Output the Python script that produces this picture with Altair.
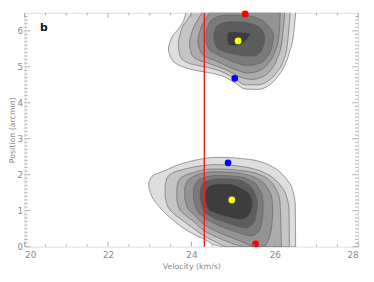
import altair as alt
import pandas as pd

# ---------------- data ----------------
# Axis ticks
X_MAJOR = [20, 22, 24, 26, 28]
X_MINOR = [20.5, 21, 21.5, 22.5, 23, 23.5, 24.5, 25, 25.5, 26.5, 27, 27.5]
Y_MAJOR = [0, 1, 2, 3, 4, 5, 6]
Y_MINOR = [round(i * 0.1, 1) for i in range(1, 65) if i % 10 != 0]

# Reference velocity (red vertical line)
RED_LINE_X = [24.31]

# Marked points
PT_X = [25.29, 25.12, 25.04, 24.88, 24.97, 25.54]
PT_Y = [6.47, 5.72, 4.68, 2.33, 1.30, 0.08]
PT_C = ["#ff0000", "#ffff00", "#0000ff", "#0000ff", "#ffff00", "#ff0000"]

# Contour fills (outer -> inner)
LEVEL_FILLS = ["#dedede", "#c5c5c5", "#acacac", "#939393", "#7a7a7a", "#5d5d5d", "#3d3d3d"]

# Lower blob contours: x, lower edge, upper edge
LOW1_X = [22.98, 23.05, 23.2, 23.4, 23.6, 23.8, 24.0, 24.3, 24.55, 24.8, 25.2, 25.6, 25.9, 26.1, 26.3, 26.42, 26.49, 26.5]
LOW1_LO = [1.62, 1.40, 1.15, 0.90, 0.70, 0.52, 0.38, 0.21, 0.05, 0, 0, 0, 0, 0, 0, 0, 0, 0]
LOW1_HI = [1.80, 1.95, 2.04, 2.13, 2.24, 2.32, 2.38, 2.45, 2.48, 2.48, 2.45, 2.38, 2.25, 2.10, 1.85, 1.60, 1.20, 0.0]

LOW2_X = [23.37, 23.42, 23.55, 23.75, 24.0, 24.3, 24.6, 24.85, 25.05, 25.4, 25.7, 25.95, 26.15, 26.28, 26.34, 26.35]
LOW2_LO = [1.40, 1.15, 0.95, 0.76, 0.55, 0.30, 0.12, 0.0, 0, 0, 0, 0, 0, 0, 0, 0]
LOW2_HI = [1.72, 1.92, 2.05, 2.13, 2.20, 2.26, 2.28, 2.27, 2.25, 2.19, 2.08, 1.92, 1.68, 1.40, 1.05, 0.0]

LOW3_X = [23.65, 23.7, 23.85, 24.05, 24.3, 24.6, 24.9, 25.15, 25.3, 25.6, 25.85, 26.0, 26.12, 26.16]
LOW3_LO = [1.30, 1.08, 0.88, 0.70, 0.45, 0.27, 0.12, 0.03, 0, 0, 0, 0, 0, 0]
LOW3_HI = [1.65, 1.85, 1.98, 2.06, 2.14, 2.16, 2.15, 2.12, 2.10, 2.02, 1.86, 1.66, 1.30, 0.0]

LOW4_X = [23.84, 23.9, 24.05, 24.3, 24.6, 24.9, 25.2, 25.45, 25.6, 25.75, 25.85, 25.93, 25.95]
LOW4_LO = [1.35, 1.10, 0.90, 0.62, 0.42, 0.28, 0.14, 0.02, 0, 0.02, 0.2, 0.6, 1.0]
LOW4_HI = [1.62, 1.82, 1.95, 2.05, 2.08, 2.07, 2.03, 1.96, 1.88, 1.75, 1.58, 1.35, 1.1]

LOW5_X = [24.05, 24.12, 24.3, 24.6, 24.9, 25.2, 25.45, 25.6, 25.7, 25.72]
LOW5_LO = [1.35, 1.05, 0.82, 0.62, 0.48, 0.36, 0.30, 0.40, 0.75, 1.05]
LOW5_HI = [1.60, 1.80, 1.92, 1.98, 1.97, 1.93, 1.82, 1.66, 1.40, 1.20]

LOW6_X = [24.21, 24.28, 24.45, 24.7, 25.0, 25.3, 25.5, 25.58]
LOW6_LO = [1.35, 1.05, 0.85, 0.72, 0.60, 0.52, 0.68, 1.05]
LOW6_HI = [1.58, 1.76, 1.85, 1.89, 1.88, 1.78, 1.55, 1.30]

LOW7_X = [24.33, 24.4, 24.6, 24.9, 25.2, 25.4, 25.46]
LOW7_LO = [1.30, 1.05, 0.92, 0.82, 0.76, 0.90, 1.10]
LOW7_HI = [1.50, 1.66, 1.74, 1.74, 1.62, 1.45, 1.30]

# Upper blob contours (clipped by the top of the frame)
UP1_X = [23.45, 23.52, 23.65, 23.8, 23.92, 24.2, 24.5, 24.8, 25.05, 25.3, 25.6, 25.85, 26.05, 26.2, 26.35, 26.45, 26.5]
UP1_LO = [5.45, 5.22, 5.08, 5.0, 4.95, 4.88, 4.82, 4.72, 4.55, 4.38, 4.37, 4.48, 4.70, 4.95, 5.40, 5.90, 6.5]
UP1_HI = [5.55, 5.80, 6.00, 6.25, 6.6, 6.6, 6.6, 6.6, 6.6, 6.6, 6.6, 6.6, 6.6, 6.6, 6.6, 6.6, 6.6]

UP2_X = [23.69, 23.75, 23.9, 24.1, 24.4, 24.7, 25.0, 25.3, 25.6, 25.85, 26.05, 26.2, 26.3, 26.37]
UP2_LO = [5.50, 5.25, 5.12, 5.05, 4.98, 4.88, 4.70, 4.50, 4.50, 4.62, 4.85, 5.15, 5.60, 6.5]
UP2_HI = [5.70, 6.00, 6.30, 6.6, 6.6, 6.6, 6.6, 6.6, 6.6, 6.6, 6.6, 6.6, 6.6, 6.6]

UP3_X = [23.96, 24.02, 24.15, 24.35, 24.6, 24.9, 25.2, 25.45, 25.7, 25.9, 26.05, 26.17, 26.24]
UP3_LO = [5.55, 5.32, 5.20, 5.12, 5.02, 4.88, 4.70, 4.65, 4.72, 4.90, 5.20, 5.70, 6.5]
UP3_HI = [5.75, 6.00, 6.30, 6.6, 6.6, 6.6, 6.6, 6.6, 6.6, 6.6, 6.6, 6.6, 6.6]

UP4_X = [24.16, 24.22, 24.35, 24.55, 24.8, 25.1, 25.35, 25.6, 25.85, 26.0, 26.1, 26.13]
UP4_LO = [5.62, 5.42, 5.28, 5.18, 5.05, 4.90, 4.83, 4.88, 5.10, 5.40, 5.85, 6.5]
UP4_HI = [5.80, 6.05, 6.35, 6.6, 6.6, 6.6, 6.6, 6.6, 6.6, 6.6, 6.6, 6.6]

UP5_X = [24.35, 24.42, 24.6, 24.85, 25.1, 25.35, 25.6, 25.8, 25.93, 25.97]
UP5_LO = [5.70, 5.50, 5.35, 5.22, 5.10, 5.04, 5.08, 5.25, 5.55, 5.85]
UP5_HI = [5.95, 6.20, 6.38, 6.44, 6.44, 6.42, 6.35, 6.20, 6.00, 5.90]

UP6_X = [24.54, 24.6, 24.8, 25.05, 25.3, 25.5, 25.68, 25.76]
UP6_LO = [5.75, 5.55, 5.42, 5.35, 5.30, 5.30, 5.45, 5.72]
UP6_HI = [5.95, 6.12, 6.24, 6.26, 6.24, 6.18, 6.05, 5.85]

UP7_X = [24.86, 24.9, 25.05, 25.2, 25.32, 25.41]
UP7_LO = [5.75, 5.60, 5.58, 5.62, 5.75, 5.90]
UP7_HI = [5.90, 5.97, 5.97, 5.96, 5.95, 5.93]

PANEL_LABEL = "b"
PANEL_LABEL_POS = (20.46, 6.08)

# ---------------- chart ----------------
W, H = 341, 239
XDOM, YDOM = [20, 28], [0, 6.5]
GRAY = "#8a8a8a"
FONT = "DejaVu Sans"

xs = alt.Scale(domain=XDOM, nice=False, zero=False)
ys = alt.Scale(domain=YDOM, nice=False, zero=False)
xaxis = alt.Axis(title="Velocity (km/s)", values=X_MAJOR, ticks=False, grid=False, domain=False,
                 labelColor=GRAY, labelFont=FONT, labelFontSize=9, labelPadding=4,
                 titleColor=GRAY, titleFont=FONT, titleFontSize=8, titleFontWeight="normal",
                 titlePadding=3, format="d")
yaxis = alt.Axis(title="Position (arcmin)", values=Y_MAJOR, ticks=False, grid=False, domain=False,
                 labelColor=GRAY, labelFont=FONT, labelFontSize=9, labelPadding=2,
                 titleColor=GRAY, titleFont=FONT, titleFontSize=8, titleFontWeight="normal",
                 titlePadding=1, format="d")


def X(f):
    return alt.X(f, type="quantitative", scale=xs, axis=xaxis)


def Y(f):
    return alt.Y(f, type="quantitative", scale=ys, axis=yaxis)


low = [(LOW1_X, LOW1_LO, LOW1_HI), (LOW2_X, LOW2_LO, LOW2_HI), (LOW3_X, LOW3_LO, LOW3_HI),
       (LOW4_X, LOW4_LO, LOW4_HI), (LOW5_X, LOW5_LO, LOW5_HI), (LOW6_X, LOW6_LO, LOW6_HI),
       (LOW7_X, LOW7_LO, LOW7_HI)]
up = [(UP1_X, UP1_LO, UP1_HI), (UP2_X, UP2_LO, UP2_HI), (UP3_X, UP3_LO, UP3_HI),
      (UP4_X, UP4_LO, UP4_HI), (UP5_X, UP5_LO, UP5_HI), (UP6_X, UP6_LO, UP6_HI),
      (UP7_X, UP7_LO, UP7_HI)]

layers = []
for i, fill in enumerate(LEVEL_FILLS):
    rows = []
    for blob, (xv, lo, hi) in (("low", low[i]), ("up", up[i])):
        for a, b, c in zip(xv, lo, hi):
            rows.append({"blob": blob, "x": a, "lo": b, "hi": c})
    df = pd.DataFrame(rows)
    layers.append(
        alt.Chart(df).mark_area(interpolate="monotone", clip=True, fill=fill,
                                stroke="#5a5a5a", strokeWidth=0.6)
        .encode(x=X("x"), y=Y("lo"), y2="hi", detail="blob:N")
    )

# red vertical line
layers.append(
    alt.Chart(pd.DataFrame({"x": RED_LINE_X})).mark_rule(color="#e3201b", strokeWidth=1.4)
    .encode(x=X("x"), y=alt.value(0), y2=alt.value(H))
)

# points
layers.append(
    alt.Chart(pd.DataFrame({"x": PT_X, "y": PT_Y, "c": PT_C})).mark_circle(size=48, opacity=1)
    .encode(x=X("x"), y=Y("y"), color=alt.Color("c:N", scale=None))
)

# inward ticks on all four sides
tick_color = "#9a9a9a"
for vals, ln in ((X_MAJOR, 5), (X_MINOR, 2.5)):
    d = pd.DataFrame({"x": vals})
    layers.append(alt.Chart(d).mark_rule(color=tick_color, strokeWidth=0.8)
                  .encode(x=X("x"), y=alt.value(H), y2=alt.value(H - ln)))
    layers.append(alt.Chart(d).mark_rule(color=tick_color, strokeWidth=0.8)
                  .encode(x=X("x"), y=alt.value(0), y2=alt.value(ln)))
for vals, ln in ((Y_MAJOR, 6), (Y_MINOR, 3)):
    d = pd.DataFrame({"y": vals})
    layers.append(alt.Chart(d).mark_rule(color=tick_color, strokeWidth=0.8)
                  .encode(y=Y("y"), x=alt.value(0), x2=alt.value(ln)))
    layers.append(alt.Chart(d).mark_rule(color=tick_color, strokeWidth=0.8)
                  .encode(y=Y("y"), x=alt.value(W), x2=alt.value(W - ln)))

# panel label
layers.append(
    alt.Chart(pd.DataFrame({"x": [PANEL_LABEL_POS[0]], "y": [PANEL_LABEL_POS[1]], "t": [PANEL_LABEL]}))
    .mark_text(font=FONT, fontSize=11, fontWeight="bold", color="#111111", align="center", baseline="middle")
    .encode(x=X("x"), y=Y("y"), text="t:N")
)

chart = (
    alt.layer(*layers)
    .properties(width=W, height=H, autosize=alt.AutoSizeParams(type="none"),
                padding={"left": 17, "top": 2, "right": 8, "bottom": 26})
    .configure_view(stroke="#9a9a9a", strokeWidth=1)
    .configure(background="white")
)

chart.save("out.html", embed_options={"renderer": "svg", "actions": False})
